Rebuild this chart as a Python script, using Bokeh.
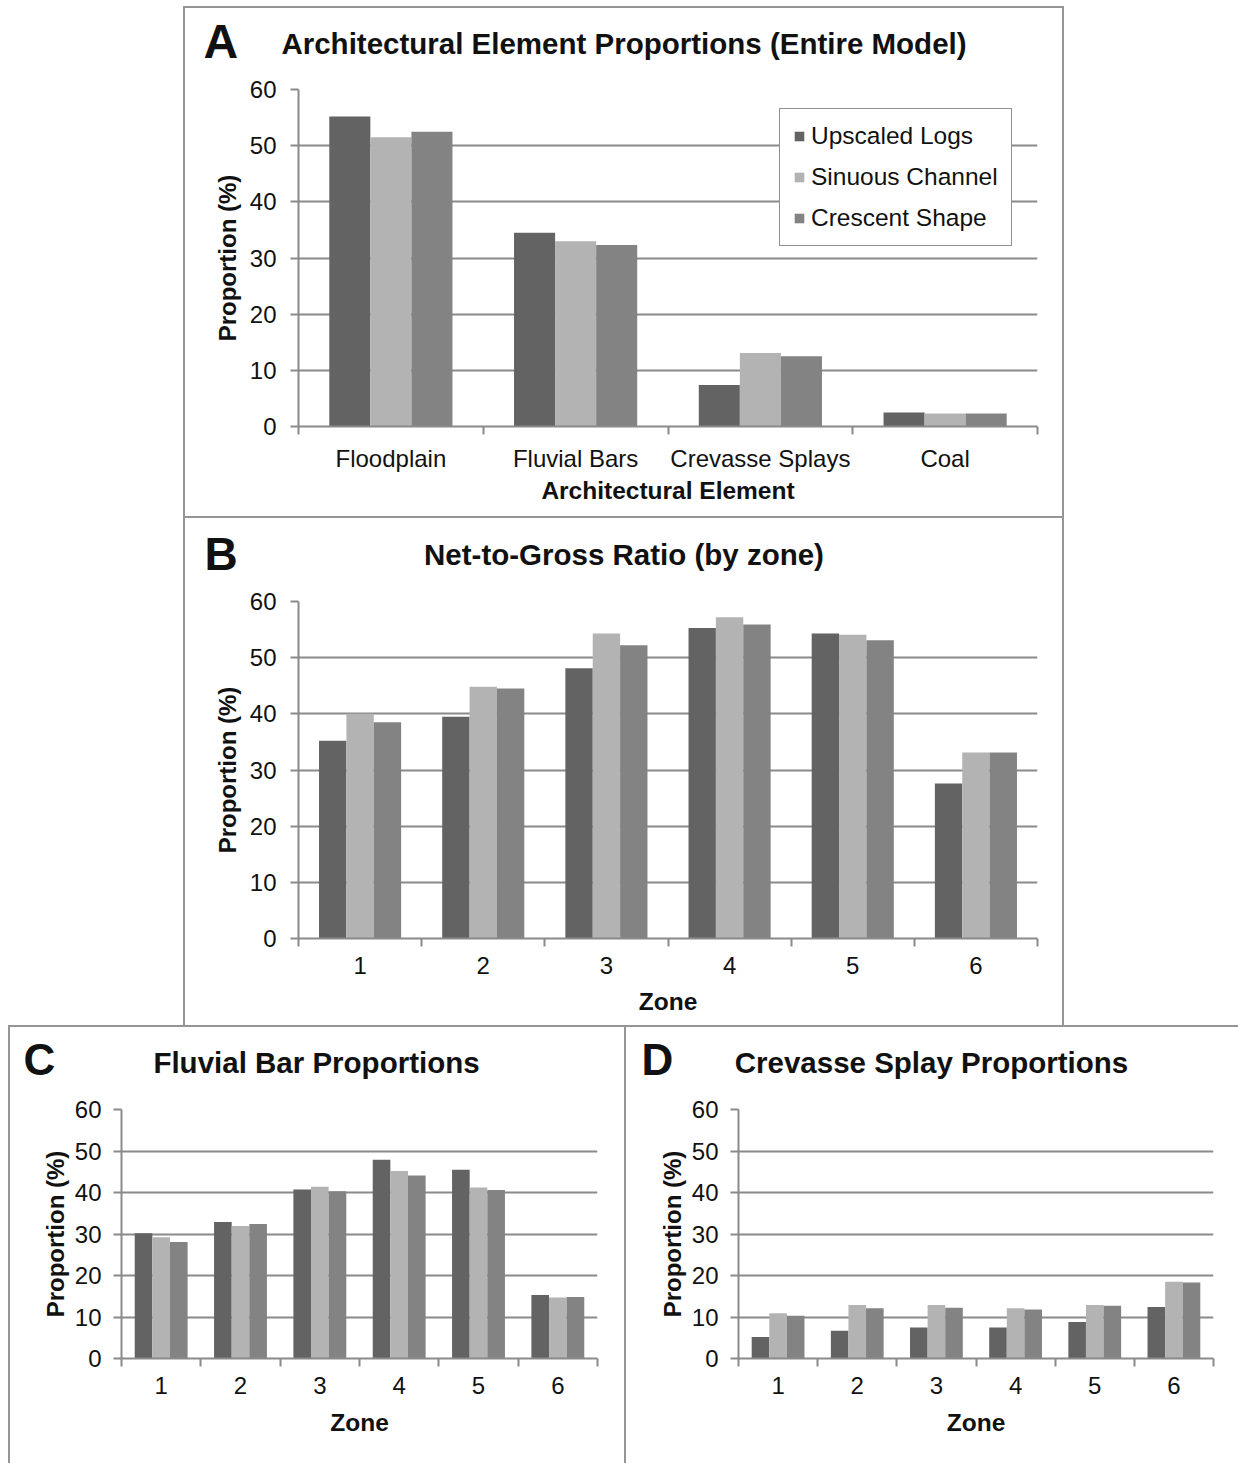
from bokeh.plotting import figure
from bokeh.models import FixedTicker, Label, Legend, LegendItem, ColumnDataSource, Range1d, Spacer
from bokeh.layouts import column, row
from bokeh.transform import dodge
from bokeh.embed import file_html
from bokeh.resources import INLINE

# ---------------- data ----------------
series_names = ["Upscaled Logs", "Sinuous Channel", "Crescent Shape"]
series_colors = ["#636363", "#b3b3b3", "#838383"]

elements = ["Floodplain", "Fluvial Bars", "Crevasse Splays", "Coal"]
elem_upscaled = [55.2, 34.5, 7.4, 2.5]
elem_sinuous = [51.5, 33.0, 13.1, 2.3]
elem_crescent = [52.5, 32.3, 12.5, 2.3]

zones = ["1", "2", "3", "4", "5", "6"]
ntg_upscaled = [35.2, 39.5, 48.1, 55.3, 54.3, 27.6]
ntg_sinuous = [40.0, 44.8, 54.3, 57.2, 54.1, 33.1]
ntg_crescent = [38.5, 44.5, 52.2, 55.9, 53.1, 33.1]

fb_upscaled = [30.2, 32.9, 40.7, 47.9, 45.5, 15.3]
fb_sinuous = [29.2, 31.9, 41.4, 45.2, 41.2, 14.7]
fb_crescent = [28.1, 32.4, 40.3, 44.1, 40.6, 14.8]

cs_upscaled = [5.2, 6.7, 7.5, 7.5, 8.8, 12.4]
cs_sinuous = [10.9, 12.9, 12.9, 12.1, 12.9, 18.5]
cs_crescent = [10.3, 12.1, 12.2, 11.8, 12.7, 18.3]

y_ticks = [0, 10, 20, 30, 40, 50, 60]

# ---------------- styling ----------------
GRAY = "#8a8a8a"
BORDER = "2px solid #959595"
FONT = "Liberation Sans"
TXT = "#111111"
BASE_SHIFT = 0.4  # em; empirical offset of the rendered baseline


def make_header(w, h, origin, letter, letter_pos, letter_px, title, title_pos, styles):
    p = figure(width=w, height=h, x_range=Range1d(0, w), y_range=Range1d(h, 0),
               x_axis_location=None, y_axis_location=None, title=None,
               output_backend="svg", toolbar_location=None, min_border=0)
    p.grid.visible = False
    p.outline_line_color = None
    p.background_fill_color = "white"
    p.border_fill_color = "white"
    p.styles = styles
    ox, oy = origin
    title_px = 29.5
    p.add_layout(Label(x=letter_pos[0] - ox, y=letter_pos[1] - oy - BASE_SHIFT * letter_px,
                       text=letter, text_align="left", text_baseline="alphabetic",
                       text_font=FONT, text_font_style="bold", text_font_size=f"{letter_px}px",
                       text_color=TXT))
    p.add_layout(Label(x=title_pos[0] - ox, y=title_pos[1] - oy - BASE_SHIFT * title_px,
                       text=title, text_align="center", text_baseline="alphabetic",
                       text_font=FONT, text_font_style="bold", text_font_size=f"{title_px}px",
                       text_color=TXT))
    return p


def make_chart(cats, vals, xlabel, w, h, fl, fr, ft, fb, styles,
               ylab_standoff, ytick_standoff, xlab_standoff, legend_loc=None):
    n = len(cats)
    p = figure(width=w, height=h, x_range=Range1d(0.5, n + 0.5), y_range=Range1d(0, 60),
               output_backend="svg", toolbar_location=None, title=None,
               min_border_left=fl, min_border_right=fr, min_border_top=ft, min_border_bottom=fb)
    p.outline_line_color = None
    p.background_fill_color = "white"
    p.border_fill_color = "white"
    p.styles = styles

    src = ColumnDataSource(dict(pos=list(range(1, n + 1)), s0=vals[0], s1=vals[1], s2=vals[2]))
    bw = 1 / 4.5
    rends = []
    for i, key in enumerate(["s0", "s1", "s2"]):
        r = p.vbar(x=dodge("pos", (i - 1) * bw), top=key, bottom=0, width=bw, source=src,
                   fill_color=series_colors[i], line_color=None)
        rends.append(r)

    p.xgrid.visible = False
    p.ygrid.grid_line_color = GRAY
    p.ygrid.grid_line_width = 2

    xa = p.xaxis[0]
    xa.ticker = FixedTicker(ticks=list(range(1, n + 1)), minor_ticks=[i + 0.5 for i in range(0, n + 1)])
    xa.major_label_overrides = {i + 1: c for i, c in enumerate(cats)}
    xa.major_tick_out = 0
    xa.major_tick_in = 0
    xa.minor_tick_out = 8
    xa.minor_tick_in = 0
    xa.minor_tick_line_color = GRAY
    xa.minor_tick_line_width = 2
    xa.axis_line_color = GRAY
    xa.axis_line_width = 2
    xa.major_label_text_font = FONT
    xa.major_label_text_font_size = "24px"
    xa.major_label_text_color = TXT
    xa.major_label_standoff = 10
    xa.axis_label = xlabel
    xa.axis_label_text_font = FONT
    xa.axis_label_text_font_style = "bold"
    xa.axis_label_text_font_size = "24.5px"
    xa.axis_label_text_color = TXT
    xa.axis_label_standoff = xlab_standoff

    ya = p.yaxis[0]
    ya.ticker = FixedTicker(ticks=y_ticks, minor_ticks=[])
    ya.major_tick_out = 8
    ya.major_tick_in = 0
    ya.major_tick_line_color = GRAY
    ya.major_tick_line_width = 2
    ya.minor_tick_line_color = None
    ya.axis_line_color = GRAY
    ya.axis_line_width = 2
    ya.major_label_text_font = FONT
    ya.major_label_text_font_size = "24px"
    ya.major_label_text_color = TXT
    ya.major_label_standoff = ytick_standoff
    ya.axis_label = "Proportion (%)"
    ya.axis_label_text_font = FONT
    ya.axis_label_text_font_style = "bold"
    ya.axis_label_text_font_size = "24px"
    ya.axis_label_text_color = TXT
    ya.axis_label_standoff = ylab_standoff

    if legend_loc is not None:
        leg = Legend(items=[LegendItem(label=series_names[i], renderers=[rends[i]]) for i in range(3)],
                     location=legend_loc, orientation="vertical")
        leg.label_text_font = FONT
        leg.label_text_font_size = "24.5px"
        leg.label_text_color = TXT
        leg.glyph_width = 12
        leg.glyph_height = 12
        leg.label_height = 28
        leg.label_standoff = 6
        leg.spacing = 13
        leg.padding = 13
        leg.margin = 0
        leg.border_line_color = "#222222"
        leg.border_line_width = 1
        leg.background_fill_color = "white"
        leg.background_fill_alpha = 1.0
        p.add_layout(leg)
    return p


# ---------------- panels ----------------
hA = make_header(881, 63, (185, 8), "A", (203, 60), 48,
                 "Architectural Element Proportions (Entire Model)", (623.5, 55),
                 {"border-top": BORDER, "border-left": BORDER, "border-right": BORDER})
cA = make_chart(elements, [elem_upscaled, elem_sinuous, elem_crescent], "Architectural Element",
                w=881, h=449, fl=113, fr=29, ft=20, fb=92,
                styles={"border-left": BORDER, "border-right": BORDER, "border-bottom": BORDER},
                ylab_standoff=6, ytick_standoff=14, xlab_standoff=2, legend_loc=(481, 180))

hB = make_header(881, 63, (185, 518), "B", (204, 572), 46,
                 "Net-to-Gross Ratio (by zone)", (623.5, 566),
                 {"border-left": BORDER, "border-right": BORDER})
cB = make_chart(zones, [ntg_upscaled, ntg_sinuous, ntg_crescent], "Zone",
                w=881, h=444, fl=113, fr=29, ft=20, fb=87,
                styles={"border-left": BORDER, "border-right": BORDER},
                ylab_standoff=6, ytick_standoff=14, xlab_standoff=11)

hC = make_header(616, 63, (10, 1027), "C", (23, 1077), 44,
                 "Fluvial Bar Proportions", (316, 1074),
                 {"border-top": BORDER, "border-left": BORDER})
cC = make_chart(zones, [fb_upscaled, fb_sinuous, fb_crescent], "Zone",
                w=616, h=375, fl=111, fr=29, ft=21, fb=105,
                styles={"border-left": BORDER},
                ylab_standoff=3, ytick_standoff=12, xlab_standoff=12)

hD = make_header(614, 63, (626, 1027), "D", (641, 1077), 44,
                 "Crevasse Splay Proportions", (931, 1074),
                 {"border-top": BORDER, "border-left": BORDER})
cD = make_chart(zones, [cs_upscaled, cs_sinuous, cs_crescent], "Zone",
                w=614, h=375, fl=112, fr=27, ft=21, fb=105,
                styles={"border-left": BORDER},
                ylab_standoff=3, ytick_standoff=12, xlab_standoff=12)

layout = column(
    Spacer(width=10, height=6),
    row(Spacer(width=183, height=10), hA),
    row(Spacer(width=183, height=10), cA),
    row(Spacer(width=183, height=10), hB),
    row(Spacer(width=183, height=10), cB),
    row(Spacer(width=8, height=10), hC, hD),
    row(Spacer(width=8, height=10), cC, cD),
)

open("out.html", "w").write(file_html(layout, INLINE))
